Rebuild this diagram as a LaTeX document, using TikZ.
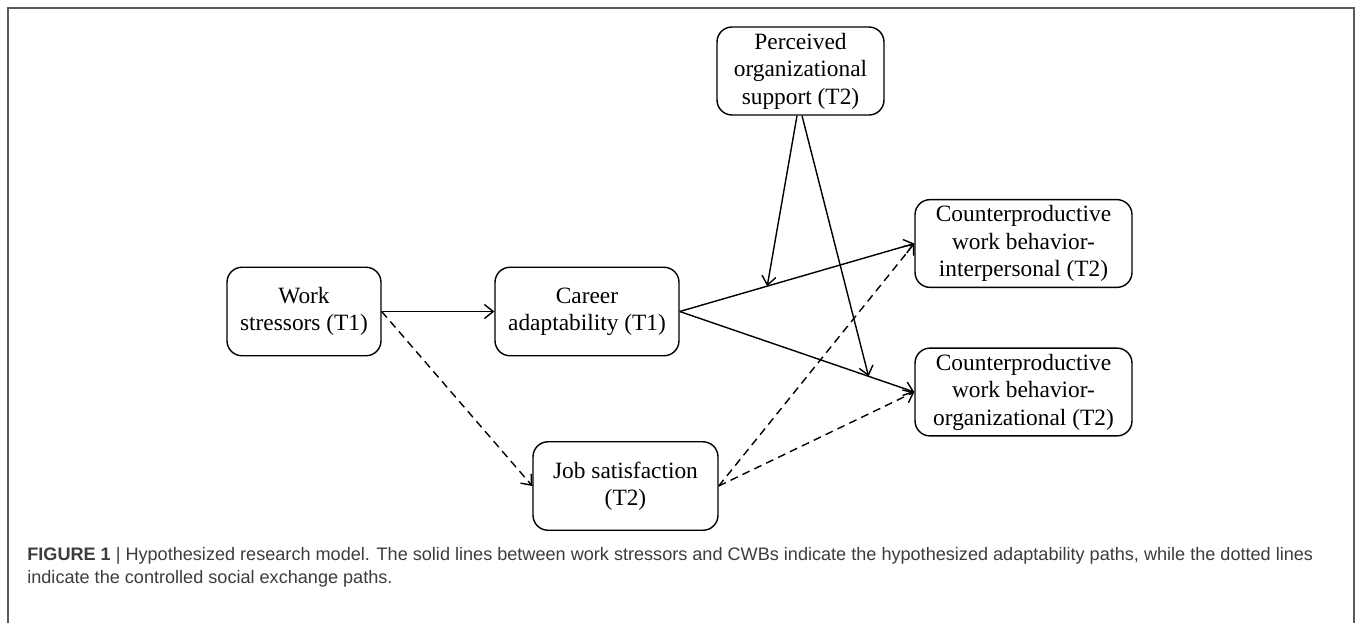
\documentclass[tikz,border=0pt]{standalone}
\usepackage{fontspec}
\setmainfont{Liberation Serif}
\newfontfamily\capfont{Liberation Sans}
\usetikzlibrary{calc,arrows.meta}
\definecolor{framegray}{HTML}{5A5A5A}
\definecolor{captext}{HTML}{3C3C3C}
\begin{document}
\begin{tikzpicture}[x=0.02cm,y=-0.02cm,
  >={Straight Barb[length=5pt,width=8pt]},
  var/.style={draw,rounded corners=0.3cm,line width=0.8pt,align=center,
    font=\fontsize{13.3}{15.6}\selectfont,minimum height=1.77cm},
  path/.style={->,line width=0.8pt},
  alt/.style={->,line width=0.8pt,dash pattern=on 4.5pt off 3pt}]
\useasboundingbox (0,0) rectangle (1358,623);

% frame
\draw[framegray,line width=1.1pt] (8,623) -- (8,8) -- (1354,8) -- (1354,623);

% variables
\node[var,minimum width=3.08cm] (work) at (304,311.5) {Work\\stressors (T1)};
\node[var,minimum width=3.68cm] (car) at (587,311.5) {Career\\adaptability (T1)};
\node[var,minimum width=3.70cm] (job) at (625.5,486) {Job satisfaction\\(T2)};
\node[var,minimum width=3.34cm,minimum height=1.76cm] (pos) at (800.5,71)
  {Perceived\\organizational\\support (T2)};
\node[var,minimum width=4.34cm,minimum height=1.74cm] (cwbi) at (1023.5,243.5)
  {Counterproductive\\work behavior-\\interpersonal (T2)};
\node[var,minimum width=4.34cm,minimum height=1.74cm] (cwbo) at (1023.5,392)
  {Counterproductive\\work behavior-\\organizational (T2)};

% adaptability paths
\draw[path] (work.east) -- (car.west);
\draw[path] (car.east) -- (cwbi.west);
\draw[path] (car.east) -- (cwbo.west);

% moderation
\coordinate (modi) at ($(car.east)!0.373!(cwbi.west)$);
\coordinate (modo) at ($(car.east)!0.805!(cwbo.west)$);
\draw[path] ($(pos.south)+(-3.5,0)$) -- (modi);
\draw[path] ($(pos.south)+(1.5,0)$) -- (modo);

% social exchange paths
\draw[alt] (work.east) -- (job.west);
\draw[alt] (job.east) -- (cwbi.west);
\draw[alt] (job.east) -- (cwbo.west);

% caption
\node[anchor=base west,align=left,inner sep=0pt,text=captext,
  font=\capfont\fontsize{10.3}{12.8}\selectfont] (cap) at (27,583)
  {\textbf{FIGURE 1} {\textbar} Hypothesized research model. The solid lines between work stressors and CWBs indicate the hypothesized adaptability paths, while the dotted lines\\
   indicate the controlled social exchange paths.};
\end{tikzpicture}
\end{document}
